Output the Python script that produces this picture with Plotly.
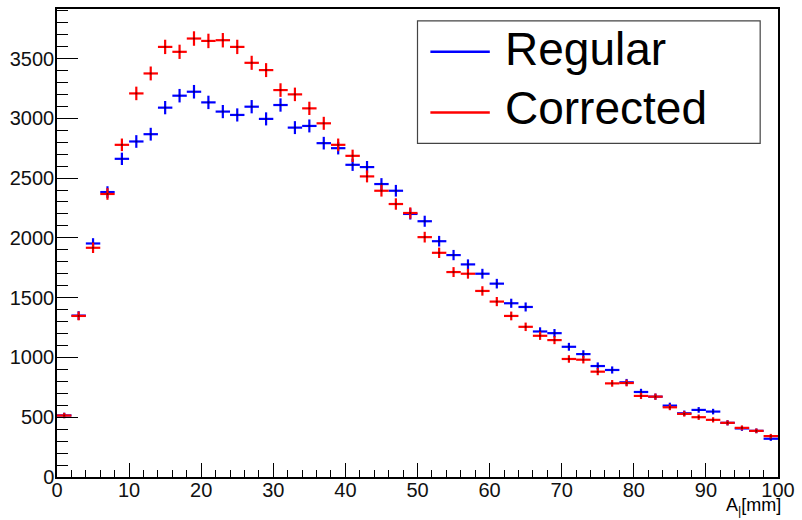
import numpy as np
import plotly.graph_objects as go

# bin centres (bin width 2 mm)
bin_centers = [1, 3, 5, 7, 9, 11, 13, 15, 17, 19, 21, 23, 25, 27, 29, 31, 33, 35, 37, 39,
               41, 43, 45, 47, 49, 51, 53, 55, 57, 59, 61, 63, 65, 67, 69, 71, 73, 75, 77, 79,
               81, 83, 85, 87, 89, 91, 93, 95, 97, 99]
bin_halfwidth = 1.0

regular = [515, 1350, 1953, 2383, 2661, 2806, 2867, 3089, 3189, 3222,
           3133, 3056, 3028, 3097, 2995, 3111, 2922, 2936, 2792, 2750,
           2611, 2592, 2450, 2394, 2200, 2139, 1972, 1856, 1778, 1700,
           1617, 1453, 1422, 1217, 1203, 1089, 1028, 928, 895, 792,
           711, 672, 597, 533, 561, 547, 453, 406, 386, 320]

corrected = [514, 1347, 1917, 2367, 2778, 3208, 3375, 3597, 3556, 3667,
             3647, 3653, 3597, 3464, 3403, 3236, 3200, 3083, 2958, 2778,
             2686, 2514, 2394, 2283, 2208, 2006, 1875, 1714, 1700, 1556,
             1467, 1347, 1256, 1181, 1145, 987, 981, 881, 783, 786,
             678, 672, 583, 528, 500, 478, 453, 411, 386, 342]

series_names = ["Regular", "Corrected"]
series_colors = ["#0000ff", "#ff0000"]
x_title = "A<sub>|</sub>[mm]"
y_tickvals = [0, 500, 1000, 1500, 2000, 2500, 3000, 3500]
x_tickvals = [0, 10, 20, 30, 40, 50, 60, 70, 80, 90, 100]

W, H = 802, 520
L, R, T, B = 57, 785, 7, 477
FONT = "Liberation Sans, Arial, sans-serif"

fig = go.Figure()
for name, vals, col in zip(series_names, [regular, corrected], series_colors):
    fig.add_trace(go.Scatter(
        x=bin_centers, y=vals, mode="markers", name=name, showlegend=False,
        marker=dict(size=2, color="black", symbol="square", opacity=0.5),
        error_x=dict(type="constant", value=bin_halfwidth, color=col, thickness=2.2, width=0),
        error_y=dict(type="data", array=list(np.sqrt(vals)), color=col, thickness=2.2, width=0),
        cliponaxis=True,
    ))

def px2paper_x(px):
    return (px - L) / (R - L)

def px2paper_y(py):
    return (B - py) / (B - T)

# legend box drawn manually (ROOT style)
shapes = [
    dict(type="rect", xref="paper", yref="paper",
         x0=px2paper_x(421), x1=px2paper_x(767), y0=px2paper_y(142), y1=px2paper_y(19),
         line=dict(color="#444444", width=1.2), fillcolor="white", layer="above"),
]
annotations = []
for i, (name, col) in enumerate(zip(series_names, series_colors)):
    yy = 50 + i * 61
    shapes.append(dict(type="line", xref="paper", yref="paper",
                       x0=px2paper_x(434), x1=px2paper_x(494),
                       y0=px2paper_y(yy), y1=px2paper_y(yy),
                       line=dict(color=col, width=2.5), layer="above"))
    annotations.append(dict(xref="paper", yref="paper", x=px2paper_x(507), y=px2paper_y(yy - 3 - i * 2),
                            text=name, showarrow=False, xanchor="left", yanchor="middle",
                            font=dict(family=FONT, size=46, color="black")))

annotations.append(dict(xref="paper", yref="paper", x=px2paper_x(790), y=px2paper_y(507), text=x_title,
                        showarrow=False, xanchor="right", yanchor="middle",
                        font=dict(family=FONT, size=18, color="black")))

fig.update_layout(
    width=W, height=H,
    margin=dict(l=L, r=W - R, t=T, b=H - B, pad=0),
    paper_bgcolor="white", plot_bgcolor="white",
    font=dict(family=FONT, size=20, color="black"),
    shapes=shapes, annotations=annotations,
    xaxis=dict(range=[0, 100], tickvals=x_tickvals, ticks="inside", ticklen=14, tickwidth=1.3,
               tickcolor="black", showline=True, linecolor="black", linewidth=1.5, mirror=True,
               showgrid=False, zeroline=False, ticklabelstandoff=-6,
               minor=dict(ticks="inside", dtick=2, ticklen=7, tickcolor="black", tickwidth=1.3, showgrid=False),
               tickfont=dict(family=FONT, size=20, color="#111111")),
    yaxis=dict(range=[0, 3914], tickvals=y_tickvals, ticks="inside", ticklen=21, tickwidth=1.3,
               tickcolor="black", showline=True, linecolor="black", linewidth=1.5, mirror=True,
               showgrid=False, zeroline=False, ticklabelstandoff=-3,
               minor=dict(ticks="inside", dtick=100, ticklen=11, tickcolor="black", tickwidth=1.3, showgrid=False),
               tickfont=dict(family=FONT, size=20, color="#111111")),
)

fig.write_html("out.html")
